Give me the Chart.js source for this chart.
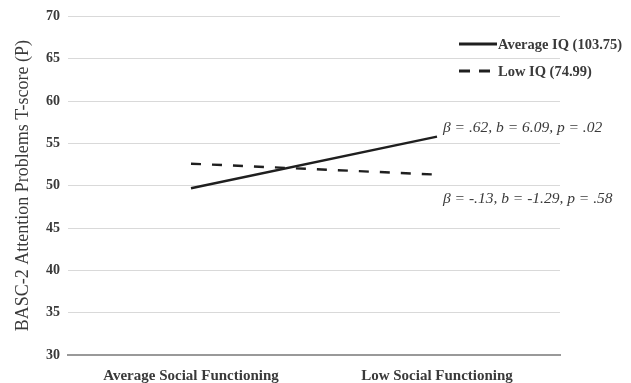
<!DOCTYPE html>
<html>
<head>
<meta charset="utf-8">
<script src="https://cdn.jsdelivr.net/npm/chart.js@4/dist/chart.umd.min.js"></script>
<style>
  html, body { margin: 0; padding: 0; background: #ffffff; }
  #wrap { width: 631px; height: 383px; position: relative; }
</style>
</head>
<body>
<div id="wrap"><canvas id="c" width="631" height="383"></canvas></div>
<script>
// Social functioning groups on the x axis
const categories = ['Average Social Functioning', 'Low Social Functioning'];
// Estimated BASC-2 Attention Problems T-scores by IQ group
const averageIQ = [49.70, 55.79];
const lowIQ = [52.60, 51.31];
const seriesNames = ['Average IQ (103.75)', 'Low IQ (74.99)'];
// Simple slope statistics printed next to each line end
const slopeLabels = ['β = .62, b = 6.09, p = .02', 'β = -.13, b = -1.29, p = .58'];
const yTicks = [30, 35, 40, 45, 50, 55, 60, 65, 70];

const SERIF = '"Liberation Serif", "Times New Roman", serif';
const LINE = '#1f1f1f';
const TEXT = '#3a3a3a';
const DASH = [10, 11];

// Legend drawn inside the top-right corner, plus slope annotations
const overlay = {
  id: 'overlay',
  afterDatasetsDraw(chart) {
    const ctx = chart.ctx;
    const x = chart.scales.x, y = chart.scales.y;
    ctx.save();
    // legend
    const items = [
      { name: seriesNames[0], dash: [] },
      { name: seriesNames[1], dash: [11, 9] }
    ];
    ctx.font = 'bold 14.5px ' + SERIF;
    ctx.textBaseline = 'middle';
    items.forEach((it, i) => {
      const ly = 44 + i * 27;
      ctx.strokeStyle = LINE;
      ctx.lineWidth = 2.8;
      ctx.setLineDash(it.dash);
      ctx.beginPath();
      ctx.moveTo(459, ly);
      ctx.lineTo(it.dash.length ? 492 : 497, ly);
      ctx.stroke();
      ctx.setLineDash([]);
      ctx.fillStyle = TEXT;
      ctx.textAlign = 'left';
      ctx.fillText(it.name, 498, ly + 1);
    });
    // slope annotations beside the low-social-functioning end
    ctx.font = 'italic 15.5px ' + SERIF;
    ctx.fillStyle = TEXT;
    ctx.textAlign = 'left';
    ctx.textBaseline = 'middle';
    const xEnd = x.getPixelForValue(1);
    ctx.fillText(slopeLabels[0], xEnd + 6, y.getPixelForValue(averageIQ[1]) - 9);
    ctx.fillText(slopeLabels[1], xEnd + 6, y.getPixelForValue(lowIQ[1]) + 24);
    ctx.restore();
  }
};

new Chart(document.getElementById('c'), {
  type: 'line',
  data: {
    labels: categories,
    datasets: [
      {
        label: seriesNames[0],
        data: averageIQ,
        borderColor: LINE,
        borderWidth: 2.4,
        pointRadius: 0,
        fill: false,
        tension: 0
      },
      {
        label: seriesNames[1],
        data: lowIQ,
        borderColor: LINE,
        borderWidth: 2.4,
        borderDash: DASH,
        pointRadius: 0,
        fill: false,
        tension: 0
      }
    ]
  },
  options: {
    responsive: false,
    animation: false,
    devicePixelRatio: 1,
    layout: { padding: { top: 15, right: 71, left: 0, bottom: 0 } },
    plugins: {
      legend: { display: false },
      tooltip: { enabled: false }
    },
    scales: {
      x: {
        type: 'category',
        offset: true,
        grid: { display: false, drawTicks: false },
        border: { display: true, color: '#999999', width: 2 },
        ticks: {
          color: TEXT,
          font: { family: SERIF, size: 15, weight: 'bold' },
          padding: 12,
          maxRotation: 0
        },
        afterFit(s) { s.height = 28; }
      },
      y: {
        min: 30,
        max: 70,
        afterBuildTicks(s) { s.ticks = yTicks.map(v => ({ value: v })); },
        grid: { color: '#d9d9d9', lineWidth: 1, drawTicks: false },
        border: { display: false },
        ticks: {
          color: TEXT,
          font: { family: SERIF, size: 14, weight: 'bold' },
          padding: 8
        },
        title: {
          display: true,
          text: 'BASC-2 Attention Problems T-score (P)',
          color: TEXT,
          font: { family: SERIF, size: 18 },
          padding: { top: 12, bottom: 4 }
        },
        afterFit(s) { s.width = 68; }
      }
    }
  },
  plugins: [overlay]
});
</script>
</body>
</html>
